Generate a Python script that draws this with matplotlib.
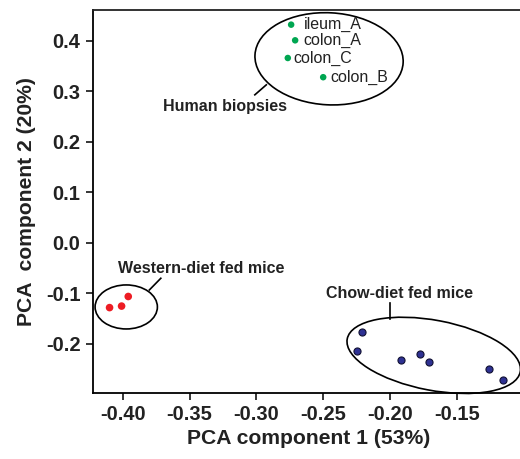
import matplotlib
matplotlib.use("Agg")
import matplotlib.pyplot as plt
from matplotlib.patches import Ellipse
from matplotlib.transforms import Affine2D

plt.rcParams['font.family'] = ['Liberation Sans', 'DejaVu Sans']

# Data
human_labels = ["ileum_A", "colon_A", "colon_C", "colon_B"]
human_x = [-0.274, -0.271, -0.2765, -0.250]
human_y = [0.432, 0.401, 0.366, 0.328]
human_label_x = [-0.2647, -0.2647, -0.2721, -0.2449]

western_x = [-0.410, -0.401, -0.396]
western_y = [-0.128, -0.125, -0.106]

chow_x = [-0.221, -0.2247, -0.192, -0.1773, -0.1708, -0.1259, -0.1156]
chow_y = [-0.177, -0.213, -0.232, -0.220, -0.236, -0.250, -0.271]

xticks = [-0.40, -0.35, -0.30, -0.25, -0.20, -0.15]
yticks = [-0.2, -0.1, 0.0, 0.1, 0.2, 0.3, 0.4]

fig = plt.figure(figsize=(5.2, 4.59), dpi=100)
ax = fig.add_axes([93/520, 66/459, 1 - 93/520 + 0.01, (449-66)/459])
ax.set_xlim(-0.4224, -0.1061 + 0.0074)
ax.set_ylim(-0.297, 0.461)

ax.spines['right'].set_visible(False)
for s in ['top', 'left', 'bottom']:
    ax.spines[s].set_linewidth(1.3)
ax.spines['top'].set_color('#222222')

ax.scatter(human_x, human_y, s=22, color='#00a651', edgecolors='none', zorder=3)
ax.scatter(western_x, western_y, s=30, color='#ed1c24', edgecolors='none', zorder=3)
ax.scatter(chow_x, chow_y, s=26, color='#2e3192', edgecolors='#111133', linewidths=0.8, zorder=3)

for lab, lx, y in zip(human_labels, human_label_x, human_y):
    ax.text(lx, y, lab, fontsize=11.5, va='center', ha='left', color='#222222')

# px per data unit (for shaping ellipses in screen space)
SX, SY = 1350.0, 505.0
def add_ell(cx, cy, w, h, ang):
    e = Ellipse((0, 0), w, h, angle=ang, fill=False, edgecolor='black', linewidth=1.2,
                transform=Affine2D().scale(1/SX, 1/SY).translate(cx, cy) + ax.transData,
                clip_on=False)
    ax.add_patch(e)

add_ell(-0.2456, 0.3644, 150, 92, -3)
add_ell(-0.3975, -0.1267, 63, 44, 0)
add_ell(-0.1672, -0.2225, 178, 70, -10.6)

# Leaders
ax.plot([-0.3012, -0.2926], [0.2931, 0.3129], color='black', lw=1.2)
ax.plot([-0.3802, -0.3716], [-0.0931, -0.0699], color='black', lw=1.2)
ax.plot([-0.2002, -0.2002], [-0.1188, -0.1505], color='black', lw=1.2)

ax.text(-0.3236, 0.2693, "Human biopsies", fontsize=11.5, fontweight='bold', ha='center', va='center', color='#222222')
ax.text(-0.341, -0.0501, "Western-diet fed mice", fontsize=11.5, fontweight='bold', ha='center', va='center', color='#222222')
ax.text(-0.1932, -0.0996, "Chow-diet fed mice", fontsize=11.5, fontweight='bold', ha='center', va='center', color='#222222')

ax.set_xticks(xticks)
ax.set_xticklabels([f"{v:.2f}" for v in xticks])
ax.set_yticks(yticks)
ax.set_yticklabels([f"{v:.1f}" for v in yticks])
ax.tick_params(direction='out', length=5, width=1.1, labelsize=14.5, pad=4)
for t in ax.get_xticklabels() + ax.get_yticklabels():
    t.set_fontweight('bold')
    t.set_color('#222222')

ax.set_xlabel("PCA component 1 (53%)", fontsize=15.2, fontweight='bold', color='#222222', labelpad=3)
ax.set_ylabel("PCA  component 2 (20%)", fontsize=15.2, fontweight='bold', color='#222222', labelpad=7)

fig.savefig("out.png", dpi=100)
